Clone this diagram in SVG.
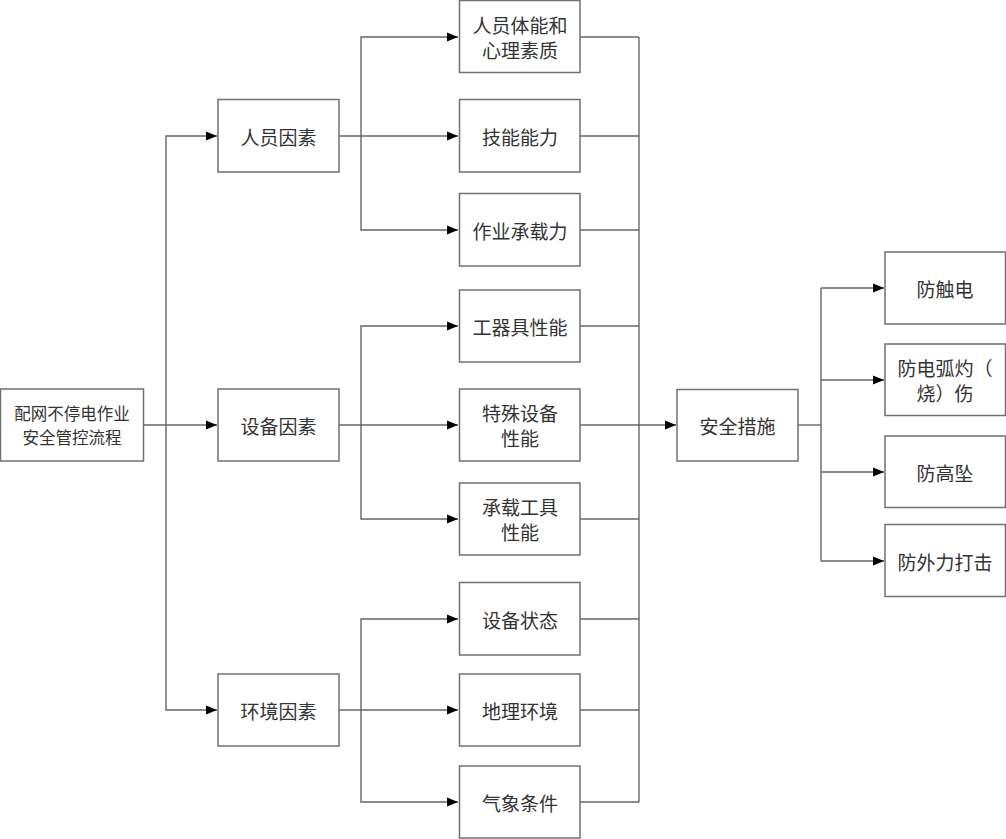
<svg xmlns="http://www.w3.org/2000/svg" width="1006" height="839" viewBox="0 0 1006 839">
<style>
.box{fill:#fff;stroke:#707070;stroke-width:1.5}
.t{font-family:"Noto Sans CJK SC","Liberation Sans",sans-serif;font-size:19px;fill:#333;text-anchor:middle;dominant-baseline:central}
.ts{font-size:16.5px}
.c{fill:none;stroke:#666;stroke-width:1.4}
</style>
<defs>
<marker id="a" markerUnits="userSpaceOnUse" markerWidth="11" markerHeight="10" refX="11" refY="5" orient="auto">
<path d="M0,0.5 L11,5 L0,9.5 z" fill="#000"/>
</marker>
</defs>
<rect width="1006" height="839" fill="#fff"/>
<g id="connectors">
<line class="c" x1="144" y1="425" x2="217" y2="425" marker-end="url(#a)"/>
<polyline class="c" points="166,425 166,136 217,136" marker-end="url(#a)"/>
<polyline class="c" points="166,425 166,710 217,710" marker-end="url(#a)"/>
<line class="c" x1="339" y1="136" x2="458" y2="136" marker-end="url(#a)"/>
<polyline class="c" points="361,136 361,37 458,37" marker-end="url(#a)"/>
<polyline class="c" points="361,136 361,230 458,230" marker-end="url(#a)"/>
<line class="c" x1="339" y1="425" x2="458" y2="425" marker-end="url(#a)"/>
<polyline class="c" points="361,425 361,326 458,326" marker-end="url(#a)"/>
<polyline class="c" points="361,425 361,519 458,519" marker-end="url(#a)"/>
<line class="c" x1="339" y1="710" x2="458" y2="710" marker-end="url(#a)"/>
<polyline class="c" points="361,710 361,619 458,619" marker-end="url(#a)"/>
<polyline class="c" points="361,710 361,802 458,802" marker-end="url(#a)"/>
<line class="c" x1="639" y1="37" x2="639" y2="802"/>
<line class="c" x1="580" y1="37" x2="639" y2="37"/>
<line class="c" x1="580" y1="136" x2="639" y2="136"/>
<line class="c" x1="580" y1="230" x2="639" y2="230"/>
<line class="c" x1="580" y1="326" x2="639" y2="326"/>
<line class="c" x1="580" y1="519" x2="639" y2="519"/>
<line class="c" x1="580" y1="619" x2="639" y2="619"/>
<line class="c" x1="580" y1="710" x2="639" y2="710"/>
<line class="c" x1="580" y1="802" x2="639" y2="802"/>
<line class="c" x1="580" y1="425" x2="676" y2="425" marker-end="url(#a)"/>
<line class="c" x1="798" y1="425" x2="821" y2="425"/>
<polyline class="c" points="821,288 821,561"/>
<line class="c" x1="821" y1="288" x2="884" y2="288" marker-end="url(#a)"/>
<line class="c" x1="821" y1="380" x2="884" y2="380" marker-end="url(#a)"/>
<line class="c" x1="821" y1="472" x2="884" y2="472" marker-end="url(#a)"/>
<line class="c" x1="821" y1="561" x2="884" y2="561" marker-end="url(#a)"/>
</g>
<g id="root"><rect class="box" x="0.5" y="389" width="143" height="72"/><text class="t ts" x="72" y="413">配网不停电作业</text><text class="t ts" x="72" y="437">安全管控流程</text></g>
<g id="n-renyuan"><rect class="box" x="218" y="99.5" width="121" height="72.5"/><text class="t" x="278.5" y="136">人员因素</text></g>
<g id="n-shebei"><rect class="box" x="218" y="389" width="121" height="72"/><text class="t" x="278.5" y="425">设备因素</text></g>
<g id="n-huanjing"><rect class="box" x="218" y="674" width="121" height="72"/><text class="t" x="278.5" y="710">环境因素</text></g>
<g id="n-tineng"><rect class="box" x="459.5" y="0.5" width="120.5" height="72"/><text class="t" x="520" y="24">人员体能和</text><text class="t" x="520" y="49">心理素质</text></g>
<g id="n-jineng"><rect class="box" x="459.5" y="99.5" width="120.5" height="72.5"/><text class="t" x="520" y="136">技能能力</text></g>
<g id="n-chengzai"><rect class="box" x="459.5" y="193.5" width="120.5" height="72.5"/><text class="t" x="520" y="230">作业承载力</text></g>
<g id="n-gongqiju"><rect class="box" x="459.5" y="290" width="120.5" height="72"/><text class="t" x="520" y="326">工器具性能</text></g>
<g id="n-teshu"><rect class="box" x="459.5" y="389" width="120.5" height="72"/><text class="t" x="520" y="412.5">特殊设备</text><text class="t" x="520" y="437.5">性能</text></g>
<g id="n-chengzaigongju"><rect class="box" x="459.5" y="483" width="120.5" height="72"/><text class="t" x="520" y="506.5">承载工具</text><text class="t" x="520" y="531.5">性能</text></g>
<g id="n-zhuangtai"><rect class="box" x="459.5" y="582.5" width="120.5" height="72.5"/><text class="t" x="520" y="619">设备状态</text></g>
<g id="n-dili"><rect class="box" x="459.5" y="674" width="120.5" height="72"/><text class="t" x="520" y="710">地理环境</text></g>
<g id="n-qixiang"><rect class="box" x="459.5" y="766" width="120.5" height="72"/><text class="t" x="520" y="802">气象条件</text></g>
<g id="n-anquan"><rect class="box" x="677" y="389.5" width="121" height="71.5"/><text class="t" x="737.5" y="425">安全措施</text></g>
<g id="n-chudian"><rect class="box" x="885" y="252" width="120.5" height="72"/><text class="t" x="945" y="288">防触电</text></g>
<g id="n-dianhu"><rect class="box" x="885" y="344" width="120.5" height="71.5"/><text class="t" x="945" y="367.5">防电弧灼（</text><text class="t" x="945" y="392.5">烧）伤</text></g>
<g id="n-gaozhui"><rect class="box" x="885" y="436" width="120.5" height="71.5"/><text class="t" x="945" y="472">防高坠</text></g>
<g id="n-waili"><rect class="box" x="885" y="524.5" width="120.5" height="72"/><text class="t" x="945" y="561">防外力打击</text></g>
</svg>
